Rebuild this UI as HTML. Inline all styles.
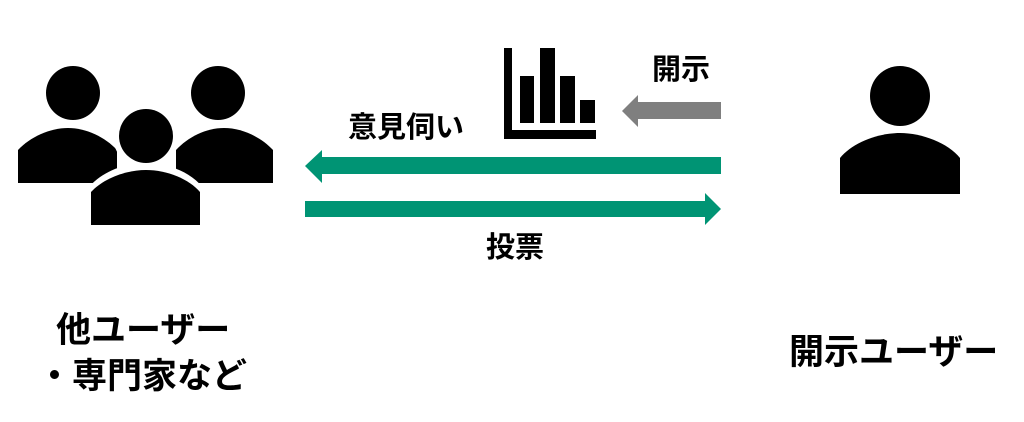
<!DOCTYPE html>
<html><head><meta charset="utf-8"><style>
html,body{margin:0;padding:0;background:#fff;}
body{width:1024px;height:422px;position:relative;overflow:hidden;font-family:"Liberation Sans","Noto Sans CJK JP",sans-serif;font-weight:bold;color:#000;}
.t{position:absolute;white-space:nowrap;line-height:1;}
</style></head><body>
<svg width="1024" height="422" style="position:absolute;left:0;top:0">
<g fill="#000">
<circle cx="73" cy="93" r="27"/>
<path d="M18,183 L18,150 C30,137 50,128 68,128 C86,128 105,137 117,150 L117,183 Z"/>
<circle cx="218" cy="93" r="27"/>
<path d="M176,183 L176,150 C188,137 206,128 224,128 C242,128 261,137 273,150 L273,183 Z"/>
<circle cx="146" cy="136" r="33" fill="#fff"/>
<path d="M83,232 L83,195 C97,172 125,163 146,163 C167,163 195,172 208,195 L208,232 Z" fill="#fff"/>
<circle cx="146" cy="136" r="27"/>
<path d="M91,225 L91,192 C103,179 125,170 146,170 C167,170 189,179 200,192 L200,225 Z"/>
<circle cx="900" cy="96" r="30"/>
<path d="M840,194 L840,158 C852,143 878,133 900,133 C922,133 948,143 960,158 L960,194 Z"/>
<rect x="504" y="48" width="8" height="91"/>
<rect x="504" y="130" width="92" height="9"/>
<rect x="520" y="76" width="14" height="47"/>
<rect x="540" y="48" width="15" height="75"/>
<rect x="560" y="76" width="15" height="47"/>
<rect x="580" y="100" width="15" height="23"/>
</g>
<polygon points="622,111 638,95 638,102 721,102 721,119 638,119 638,127" fill="#7f7f7f"/>
<polygon points="305,166 322,150 322,157 721,157 721,174 322,174 322,183" fill="#009474"/>
<polygon points="721,209 705,193 705,201 305,201 305,217 705,217 705,225" fill="#009474"/>
</svg>
<div class="t" style="left:652px;top:56px;font-size:29px">開示</div>
<div class="t" style="left:348px;top:114px;font-size:29px">意見伺い</div>
<div class="t" style="left:486px;top:234px;font-size:29px">投票</div>
<div class="t" style="left:56px;top:313px;font-size:35px">他ユーザー</div>
<div class="t" style="left:37px;top:359px;font-size:35px">・専門家など</div>
<div class="t" style="left:789px;top:335px;font-size:35px">開示ユーザー</div>
</body></html>
